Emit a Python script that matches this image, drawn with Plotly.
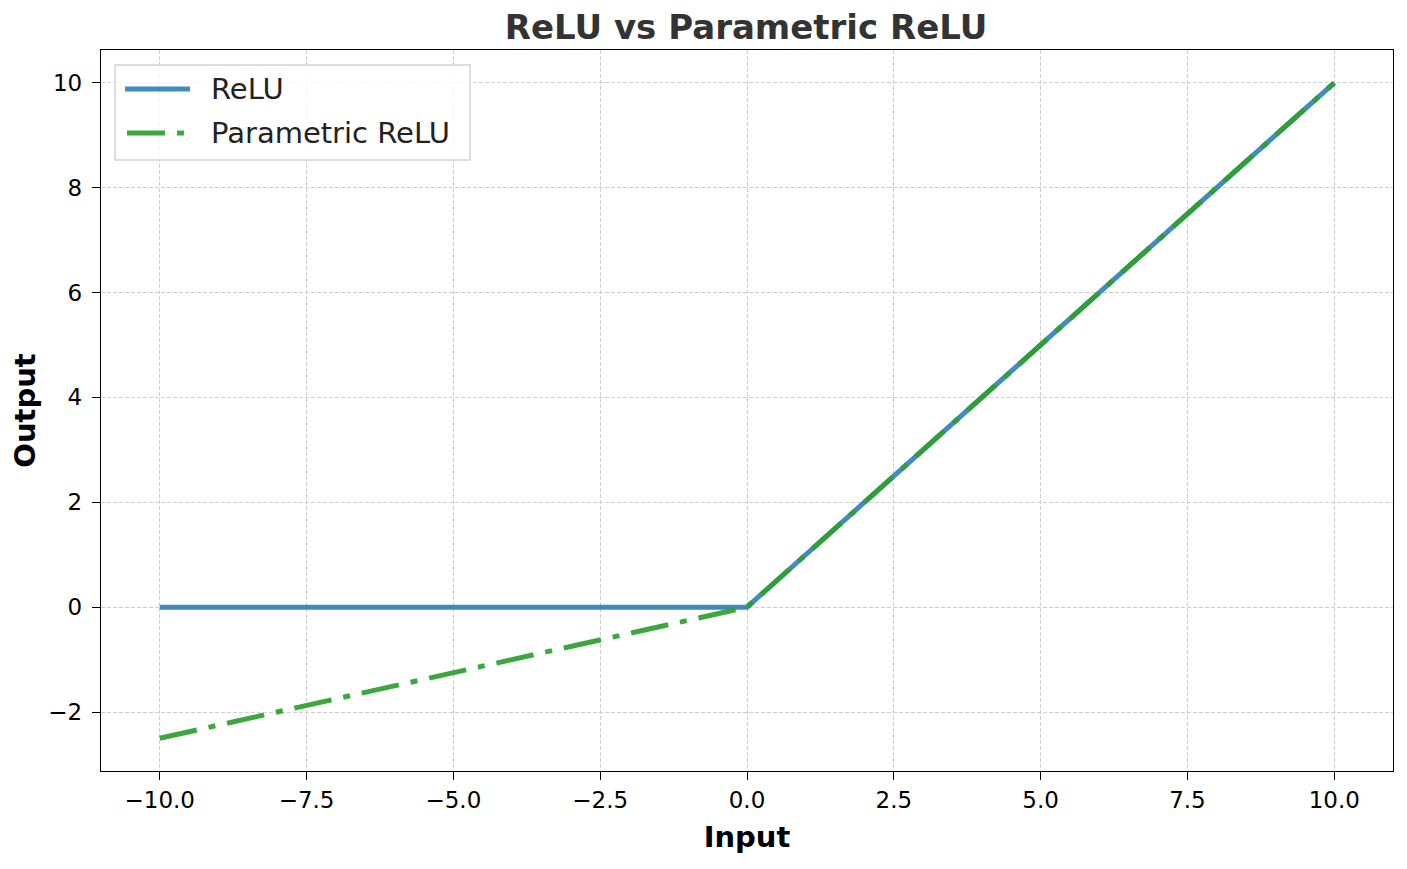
import plotly.graph_objects as go

# data points (break points of the two activations)
x_in = [-10.0, 0.0, 10.0]
relu_out = [0.0, 0.0, 10.0]
prelu_out = [-2.5, 0.0, 10.0]

series_names = ["ReLU", "Parametric ReLU"]
x_ticks = [-10.0, -7.5, -5.0, -2.5, 0.0, 2.5, 5.0, 7.5, 10.0]
x_ticklabels = ["\u221210.0", "\u22127.5", "\u22125.0", "\u22122.5", "0.0", "2.5", "5.0", "7.5", "10.0"]
y_ticks = [-2, 0, 2, 4, 6, 8, 10]
y_ticklabels = ["\u22122", "0", "2", "4", "6", "8", "10"]

blue = "rgba(31,119,180,0.85)"
green = "rgba(44,160,44,0.92)"
dashdot = "38px,12px,7px,12px"

fig = go.Figure()
fig.add_trace(go.Scatter(x=x_in, y=relu_out, mode="lines", name=series_names[0],
                         line=dict(color=blue, width=5), showlegend=False))
fig.add_trace(go.Scatter(x=x_in, y=prelu_out, mode="lines", name=series_names[1],
                         line=dict(color=green, width=5, dash=dashdot), showlegend=False))

# legend drawn by hand so the sample lines are as long as matplotlib's
fig.add_shape(type="rect", xref="paper", yref="paper", x0=0.0108, x1=0.2856, y0=0.8474, y1=0.9792,
              line=dict(color="#d4d4d4", width=1.5), fillcolor="rgba(255,255,255,0.8)", layer="above")
fig.add_shape(type="line", xref="paper", yref="paper", x0=0.0186, x1=0.0689, y0=0.9459, y1=0.9459,
              line=dict(color=blue, width=5), layer="above")
fig.add_shape(type="line", xref="paper", yref="paper", x0=0.0201, x1=0.0689, y0=0.8849, y1=0.8849,
              line=dict(color=green, width=5, dash=dashdot), layer="above")
for name, ly in zip(series_names, [0.9459, 0.8849]):
    fig.add_annotation(text=name, xref="paper", yref="paper", x=0.0835, y=ly,
                       xanchor="left", yanchor="middle", showarrow=False,
                       font=dict(size=29, color="#222222"))

axis = dict(showline=True, linecolor="black", linewidth=1.4, mirror=True,
            ticks="outside", ticklen=8, tickwidth=1.3, tickcolor="black", zeroline=False,
            showgrid=True, gridcolor="#cfcfcf", gridwidth=1, griddash="4px,2px",
            tickfont=dict(size=23, color="black"))

fig.update_layout(
    width=1391, height=853,
    paper_bgcolor="white", plot_bgcolor="white",
    font=dict(family="DejaVu Sans"),
    title=dict(text="<b>ReLU vs Parametric ReLU</b>", x=0.5306, xanchor="center",
               y=0.978, yanchor="middle", font=dict(size=34, color="#333333")),
    margin=dict(l=93, r=6, t=42, b=90),
    showlegend=False,
)
fig.update_xaxes(axis, range=[-11, 11], tickvals=x_ticks, ticktext=x_ticklabels,
                 title=dict(text="<b>Input</b>", font=dict(size=29, color="black"), standoff=14))
fig.update_yaxes(axis, range=[-3.125, 10.625], tickvals=y_ticks, ticktext=y_ticklabels,
                 ticklabelstandoff=5,
                 title=dict(text="<b>Output</b>", font=dict(size=29, color="black"), standoff=12))

fig.write_html("out.html")
